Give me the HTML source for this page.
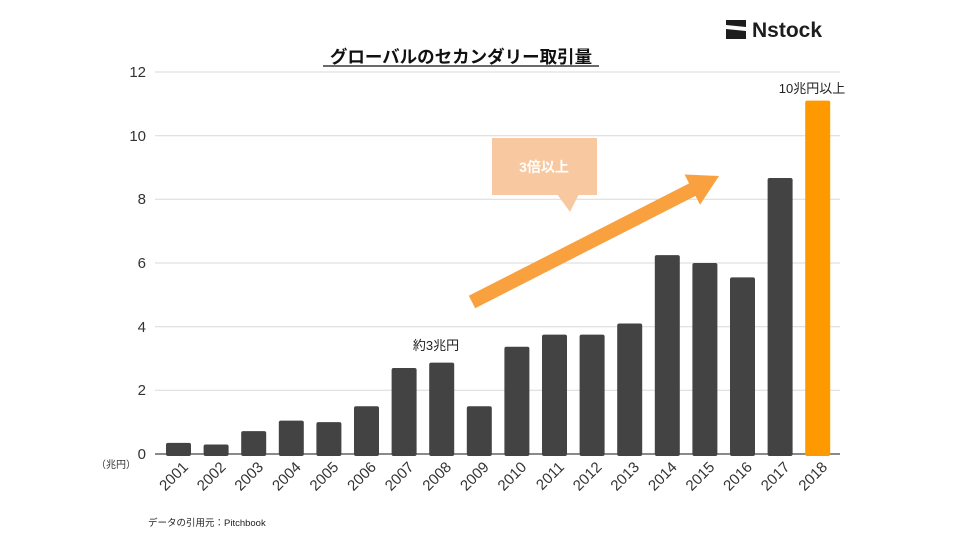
<!DOCTYPE html>
<html><head><meta charset="utf-8"><style>
body{margin:0;background:#fff;}
svg text{font-family:"Liberation Sans","Noto Sans CJK JP",sans-serif;}
</style></head><body>
<svg width="960" height="540" viewBox="0 0 960 540" xmlns="http://www.w3.org/2000/svg">
<rect width="960" height="540" fill="#fff"/>
<path d="M726,20 L746,20 L746,27 L726,25 Z" fill="#1d1d1f"/>
<path d="M726,29 L746,31 L746,39 L726,39 Z" fill="#1d1d1f"/>
<text x="752" y="37" font-size="21" font-weight="bold" fill="#1d1d1f">Nstock</text>
<text x="461" y="63" font-size="17.5" font-weight="bold" text-anchor="middle" fill="#111">グローバルのセカンダリー取引量</text>
<line x1="323" y1="66" x2="599" y2="66" stroke="#111" stroke-width="1.3"/>
<g stroke="#d9d9d9" stroke-width="1">
<line x1="155" y1="72" x2="840" y2="72"/>
<line x1="155" y1="135.7" x2="840" y2="135.7"/>
<line x1="155" y1="199.3" x2="840" y2="199.3"/>
<line x1="155" y1="263" x2="840" y2="263"/>
<line x1="155" y1="326.7" x2="840" y2="326.7"/>
<line x1="155" y1="390.3" x2="840" y2="390.3"/>
</g>
<line x1="155" y1="454" x2="840" y2="454" stroke="#444" stroke-width="1.3"/>
<g font-size="15" fill="#333" text-anchor="end">
<text x="146" y="77">12</text><text x="146" y="141">10</text><text x="146" y="204">8</text>
<text x="146" y="268">6</text><text x="146" y="332">4</text><text x="146" y="395">2</text><text x="146" y="459">0</text>
</g>
<text x="96" y="468" font-size="10" fill="#333">（兆円）</text>
<g id="bars" fill="#434343"></g>
<g id="labels" font-size="15" fill="#333"></g>
<text x="436" y="350" font-size="13" text-anchor="middle" fill="#222">約3兆円</text>
<text x="812" y="93" font-size="13" text-anchor="middle" fill="#222">10兆円以上</text>
<rect x="492" y="138" width="105" height="57" fill="#f8c9a0"/>
<polygon points="557,194 579,194 570,212" fill="#f8c9a0"/>
<text x="544" y="172" font-size="14" font-weight="bold" fill="#fff" text-anchor="middle">3倍以上</text>
<polygon points="468.8,295.8 689.1,183.4 684.6,174.5 719,176 700,204.8 695.5,195.9 475.2,308.2" fill="#f9a03f"/>
<text x="148" y="526" font-size="9.5" fill="#222">データの引用元：Pitchbook</text>
<script>
var v=[0.35,0.3,0.72,1.05,1.0,1.5,2.7,2.87,1.5,3.37,3.75,3.75,4.1,6.25,6.0,5.55,8.67,11.1];
var b=document.getElementById('bars'),l=document.getElementById('labels'),ns='http://www.w3.org/2000/svg';
for(var i=0;i<18;i++){var x=166+i*37.6,h=v[i]*31.83;
var r=document.createElementNS(ns,'rect');r.setAttribute('x',x);r.setAttribute('y',454-h);r.setAttribute('width',25);r.setAttribute('height',h+2);r.setAttribute('rx',2);
if(i==17)r.setAttribute('fill','#ff9900');b.appendChild(r);
var t=document.createElementNS(ns,'text');var cx=x+23,cy=468;t.setAttribute('x',cx);t.setAttribute('y',cy);t.setAttribute('text-anchor','end');
t.setAttribute('transform','rotate(-45 '+cx+' '+cy+')');t.textContent=2001+i;l.appendChild(t);}
</script>
</svg>
</body></html>
